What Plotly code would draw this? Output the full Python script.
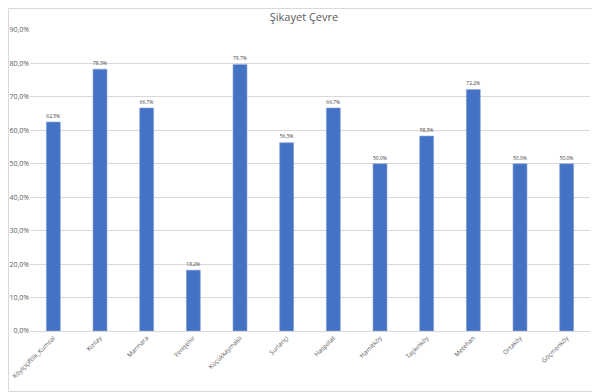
import plotly.graph_objects as go

categories = ["Köyiçiçiftlik_Kumsal", "Kızılay", "Marmara", "Yenişehir", "Küçükkaymaklı",
              "Surlariçi", "Haspolat", "Hamitköy", "Taşkınköy", "Metehan", "Ortaköy", "Göçmenköy"]
values = [62.5, 78.3, 66.7, 18.2, 79.7, 56.3, 66.7, 50.0, 58.3, 72.2, 50.0, 50.0]
tick_vals = [0, 10, 20, 30, 40, 50, 60, 70, 80, 90]
tick_text = ["0,0%", "10,0%", "20,0%", "30,0%", "40,0%", "50,0%", "60,0%", "70,0%", "80,0%", "90,0%"]
labels = [f"{v:.1f}%".replace(".", ",") for v in values]

W, H = 592, 384
L, R, T, B = 22, 10, 22, 61
PW, PH = W - L - R, H - T - B

fig = go.Figure(go.Bar(
    x=categories, y=values, text=labels, textposition="outside",
    textfont=dict(size=8, color="#404040"),
    marker=dict(color="#4472C4", line=dict(color="#8FAADC", width=0.6)),
    cliponaxis=False,
))

fig.update_layout(
    width=W, height=H,
    margin=dict(l=L, r=R, t=T, b=B, autoexpand=False),
    paper_bgcolor="white", plot_bgcolor="white",
    font=dict(family="Open Sans", color="#595959"),
    title=dict(text="Şikayet Çevre", x=0.5, xanchor="center", y=1 - 9 / H, yanchor="middle",
               font=dict(size=11, color="#595959")),
    bargap=0.7,
    showlegend=False,
    xaxis=dict(tickangle=-45, tickfont=dict(size=6.3, color="#595959"), automargin=False,
               showline=True, linecolor="#d9d9d9", linewidth=1, ticks=""),
    yaxis=dict(range=[0, 90], tickvals=tick_vals, ticktext=tick_text, automargin=False,
               tickfont=dict(size=7, color="#595959"),
               showgrid=True, gridcolor="#d9d9d9", gridwidth=1, zeroline=False, ticks=""),
    shapes=[dict(type="rect", xref="paper", yref="paper",
                 x0=-(L - 0.5) / PW, x1=1 + (R - 0.5) / PW,
                 y0=-(B - 0.5) / PH, y1=1 + (T - 0.5) / PH,
                 line=dict(color="#d9d9d9", width=1))],
)

fig.write_html("out.html")
